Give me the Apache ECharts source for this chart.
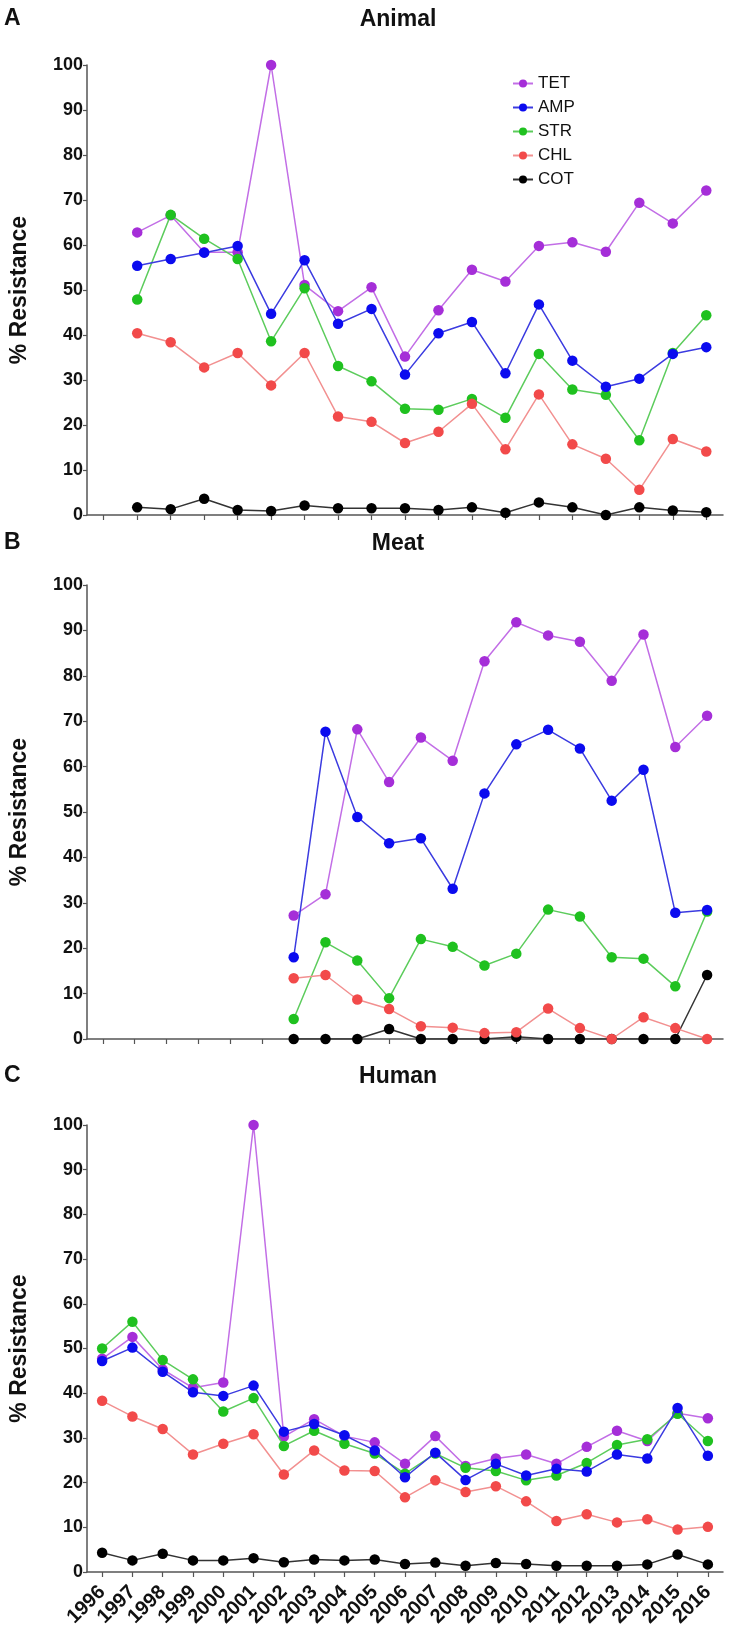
<!DOCTYPE html>
<html><head><meta charset="utf-8">
<script src="https://cdn.jsdelivr.net/npm/echarts@6/dist/echarts.min.js"></script>
<style>html,body{margin:0;padding:0;background:#fff}#c{width:739px;height:1644px}</style>
</head><body><div id="c"></div>
<script>
// ---- categories ----
const yearsAnimal = ['1998','1999','2000','2001','2002','2003','2004','2005','2006','2007','2008','2009','2010','2011','2012','2013','2014','2015','2016'];
const yearsMeat = ['1997','1998','1999','2000','2001','2002','2003','2004','2005','2006','2007','2008','2009','2010','2011','2012','2013','2014','2015','2016'];
const yearsHuman = ['1996','1997','1998','1999','2000','2001','2002','2003','2004','2005','2006','2007','2008','2009','2010','2011','2012','2013','2014','2015','2016'];
const yTicks = [0,10,20,30,40,50,60,70,80,90,100];

// ---- Animal (A) ----
const animalTET = [null,62.8,66.6,58.4,58.4,100,51.1,45.3,50.6,35.2,45.5,54.5,51.9,59.8,60.6,58.5,69.4,64.8,72.1];
const animalAMP = [null,55.4,56.9,58.3,59.8,44.7,56.6,42.5,45.8,31.2,40.4,42.9,31.5,46.8,34.3,28.5,30.3,35.8,37.3];
const animalSTR = [null,47.9,66.7,61.4,56.9,38.6,50.4,33.1,29.7,23.6,23.4,25.8,21.6,35.8,27.9,26.7,16.6,36.0,44.4];
const animalCHL = [null,40.4,38.4,32.8,36.0,28.8,36.0,21.9,20.7,16.0,18.5,24.7,14.6,26.8,15.7,12.5,5.6,16.9,14.1];
const animalCOT = [null,1.7,1.3,3.6,1.1,0.9,2.1,1.5,1.5,1.5,1.1,1.7,0.5,2.8,1.7,0,1.7,1.0,0.6];

// ---- Meat (B) ----
const meatTET = [null,null,null,null,null,null,27.2,31.9,68.2,56.6,66.4,61.3,83.2,91.8,88.9,87.5,78.9,89.1,64.3,71.2];
const meatAMP = [null,null,null,null,null,null,18.0,67.7,48.9,43.1,44.2,33.1,54.1,64.9,68.1,64.0,52.5,59.3,27.8,28.4];
const meatSTR = [null,null,null,null,null,null,4.4,21.3,17.3,9.0,22.0,20.3,16.2,18.8,28.5,27.0,18.0,17.7,11.6,28.1];
const meatCHL = [null,null,null,null,null,null,13.4,14.1,8.7,6.6,2.8,2.5,1.3,1.5,6.7,2.4,0,4.8,2.4,0];
const meatCOT = [null,null,null,null,null,null,0,0,0,2.2,0,0,0,0.5,0,0,0,0,0,14.1];

// ---- Human (C) ----
const humanTET = [47.7,52.6,45.3,41.2,42.4,100,30.3,34.2,30.4,29.0,24.2,30.4,23.7,25.4,26.3,24.2,28.0,31.6,29.3,35.5,34.4];
const humanAMP = [47.2,50.2,44.8,40.2,39.4,41.7,31.4,33.1,30.6,27.2,21.2,26.7,20.6,24.2,21.6,23.1,22.5,26.3,25.4,36.7,26.0];
const humanSTR = [50.0,56.0,47.4,43.1,35.9,38.9,28.2,31.6,28.7,26.5,22.0,26.5,23.3,22.6,20.5,21.6,24.4,28.4,29.7,35.4,29.3];
const humanCHL = [38.3,34.8,32.0,26.3,28.7,30.8,21.8,27.2,22.7,22.6,16.7,20.5,17.9,19.2,15.8,11.4,12.9,11.1,11.8,9.5,10.1];
const humanCOT = [4.3,2.6,4.1,2.6,2.6,3.1,2.2,2.8,2.6,2.8,1.8,2.1,1.4,2.0,1.8,1.4,1.4,1.4,1.7,3.9,1.7];

const seriesNames = ['TET','AMP','STR','CHL','COT'];
const panelTitles = ['Animal','Meat','Human'];
const panelLetters = ['A','B','C'];

// ---- styles ----
const markerColor = {TET:'#a52ed8', AMP:'#0b0bef', STR:'#1fc11f', CHL:'#f24a4a', COT:'#000000'};
const lineColor = {TET:'#c26ee6', AMP:'#3b3be0', STR:'#5ccc5c', CHL:'#f29090', COT:'#333333'};
const zOrder = {TET:2, STR:3, AMP:4, COT:5, CHL:6};

const chart = echarts.init(document.getElementById('c'), null, {renderer:'canvas'});
const FONT = 'Liberation Sans, Arial, sans-serif';

const grids = [
  {left:76, right:16, top:65, height:450},
  {left:76, right:16, top:585, height:454},
  {left:76, right:16, top:1125, height:447}
];
const cats = [yearsAnimal, yearsMeat, yearsHuman];
const panelData = [
  {TET:animalTET, AMP:animalAMP, STR:animalSTR, CHL:animalCHL, COT:animalCOT},
  {TET:meatTET, AMP:meatAMP, STR:meatSTR, CHL:meatCHL, COT:meatCOT},
  {TET:humanTET, AMP:humanAMP, STR:humanSTR, CHL:humanCHL, COT:humanCOT}
];

const xAxes = cats.map((c,i)=>({
  type:'category', gridIndex:i, data:c, boundaryGap:true,
  axisLine:{show:true, lineStyle:{color:'#555', width:1.5}},
  axisTick:{show:true, alignWithLabel:true, interval:0, length:5, lineStyle:{color:'#555', width:1.2}},
  axisLabel:{show:i===2, interval:0, rotate:45, fontSize:20, fontWeight:'bold', color:'#111', fontFamily:FONT, margin:17},
  splitLine:{show:false}
}));
const yAxes = grids.map((g,i)=>({
  type:'value', gridIndex:i, min:yTicks[0], max:yTicks[yTicks.length-1], interval:10,
  name:'% Resistance', nameLocation:'middle', nameGap:56, nameRotate:90,
  nameTextStyle:{fontSize:23, fontWeight:'bold', color:'#111', fontFamily:FONT},
  axisLine:{show:true, lineStyle:{color:'#555', width:1.5}},
  axisTick:{show:true, length:4, lineStyle:{color:'#555', width:1.2}},
  axisLabel:{fontSize:18, fontWeight:'bold', color:'#111', fontFamily:FONT, margin:4},
  splitLine:{show:false}
}));

const series = [];
panelData.forEach((pd,i)=>{
  seriesNames.forEach(n=>{
    series.push({
      name:n, type:'line', xAxisIndex:i, yAxisIndex:i, data:pd[n],
      symbol:'circle', symbolSize:10.5, z:zOrder[n],
      connectNulls:false, animation:false,
      itemStyle:{color:markerColor[n]},
      lineStyle:{color:lineColor[n], width:1.5}
    });
  });
});

const graphic = [];
const titleY = [20, 544, 1077];
panelTitles.forEach((t,i)=>{
  graphic.push({type:'text', style:{text:t, x:398, y:titleY[i], textAlign:'center', textVerticalAlign:'middle', font:'bold 23px '+FONT, fill:'#111'}});
  graphic.push({type:'text', style:{text:panelLetters[i], x:4, y:titleY[i]-1, textAlign:'left', textVerticalAlign:'middle', font:'bold 23px '+FONT, fill:'#111'}});
});

chart.setOption({
  animation:false,
  backgroundColor:'#fff',
  grid:grids,
  xAxis:xAxes,
  yAxis:yAxes,
  legend:{
    data:seriesNames, orient:'vertical', left:512, top:75, padding:0,
    itemWidth:20, itemHeight:10, itemGap:7,
    textStyle:{fontSize:17, color:'#111', fontFamily:FONT, lineHeight:16}
  },
  graphic:graphic,
  series:series
});
</script></body></html>
